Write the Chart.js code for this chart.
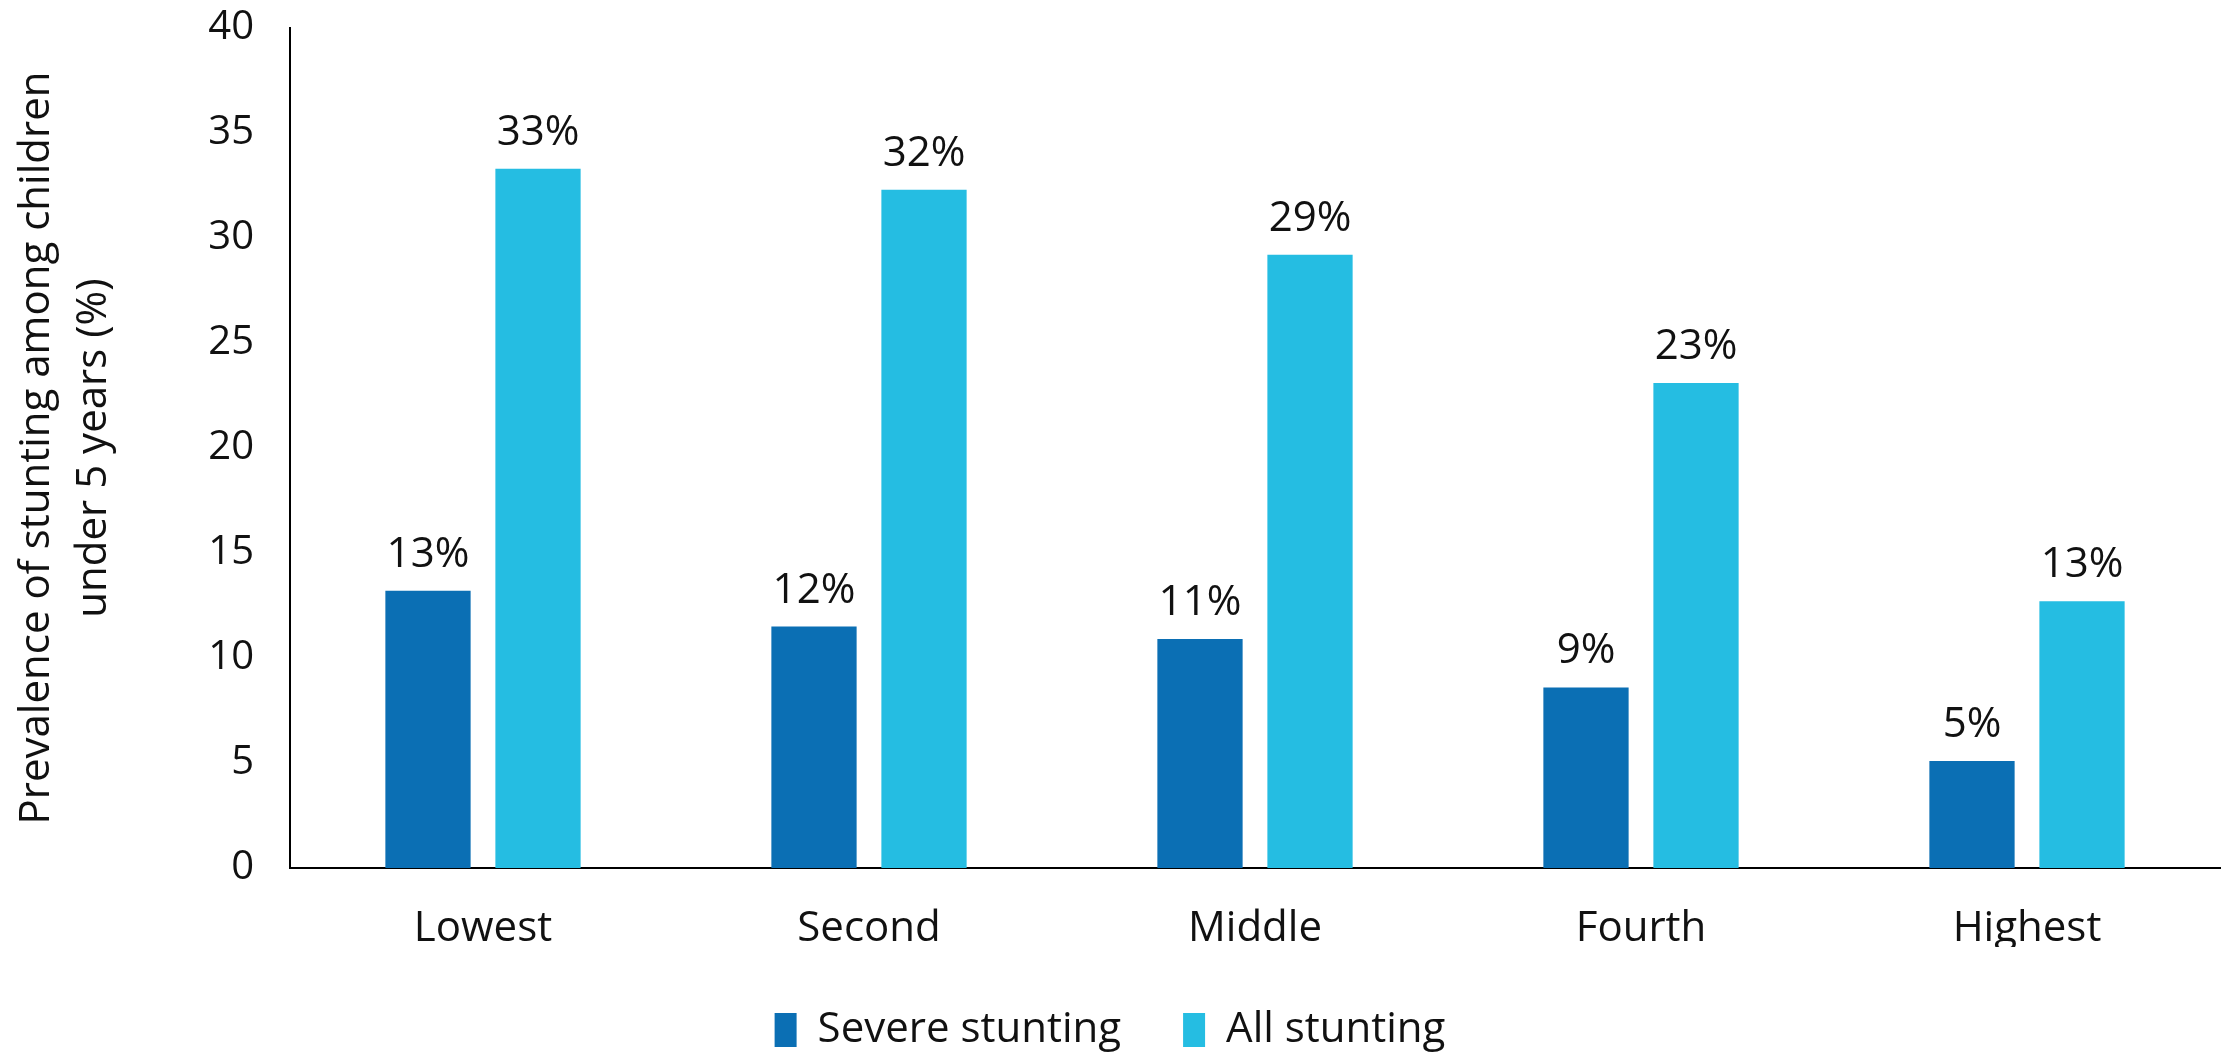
<!DOCTYPE html>
<html>
<head>
<meta charset="utf-8">
<script src="https://cdn.jsdelivr.net/npm/chart.js@4"></script>
<style>
  html, body { margin: 0; padding: 0; background: #fff; }
  #wrap { width: 2226px; height: 1055px; }
</style>
</head>
<body>
<div id="wrap"><canvas id="chart" width="2226" height="1055"></canvas></div>
<script>
const categories = ['Lowest', 'Second', 'Middle', 'Fourth', 'Highest'];
const severeStunting = [13.2, 11.5, 10.9, 8.6, 5.1];
const allStunting = [33.3, 32.3, 29.2, 23.1, 12.7];
const seriesNames = ['Severe stunting', 'All stunting'];
const yTitle = ['Prevalence of stunting among children', 'under 5 years (%)'];

const FONT = "'Open Sans', 'Noto Sans', sans-serif";

// value labels above each bar
const barLabels = {
    id: 'barLabels',
    afterDatasetsDraw(chart) {
        const ctx = chart.ctx;
        ctx.save();
        ctx.font = '42px ' + FONT;
        ctx.fillStyle = '#111';
        ctx.textAlign = 'center';
        ctx.textBaseline = 'alphabetic';
        chart.data.datasets.forEach((ds, i) => {
            chart.getDatasetMeta(i).data.forEach((bar, j) => {
                ctx.fillText(Math.round(ds.data[j]) + '%', bar.x, bar.y - 24);
            });
        });
        ctx.restore();
    }
};

new Chart(document.getElementById('chart'), {
    type: 'bar',
    data: {
        labels: categories,
        datasets: [{
            label: seriesNames[0],
            data: severeStunting,
            backgroundColor: '#0b6fb4'
        }, {
            label: seriesNames[1],
            data: allStunting,
            backgroundColor: '#25bde2'
        }]
    },
    options: {
        responsive: false,
        animation: false,
        devicePixelRatio: 1,
        categoryPercentage: 0.57,
        barPercentage: 0.775,
        layout: { padding: { top: 0, right: 6, left: 0, bottom: -6 } },
        plugins: {
            tooltip: { enabled: false },
            legend: {
                position: 'bottom',
                labels: {
                    font: { family: FONT, size: 42 },
                    color: '#111',
                    boxWidth: 22,
                    boxHeight: 34,
                    padding: 62
                }
            }
        },
        scales: {
            x: {
                grid: { display: false },
                border: { display: true, color: '#000', width: 2 },
                ticks: { font: { family: FONT, size: 42 }, color: '#111', padding: 28 },
                afterFit(scale) { scale.height = 79; }
            },
            y: {
                min: 0,
                max: 40,
                grid: { display: false },
                border: { display: true, color: '#000', width: 2 },
                ticks: { stepSize: 5, font: { family: FONT, size: 40 }, color: '#111', padding: 28 },
                title: {
                    display: true,
                    text: yTitle,
                    font: { family: FONT, size: 42, lineHeight: 1.36 },
                    color: '#111',
                    padding: { top: 8, bottom: 4 }
                },
                afterFit(scale) {
                    scale.width = 290;
                    scale.paddingTop = 28;
                }
            }
        }
    },
    plugins: [barLabels]
});
</script>
</body>
</html>
